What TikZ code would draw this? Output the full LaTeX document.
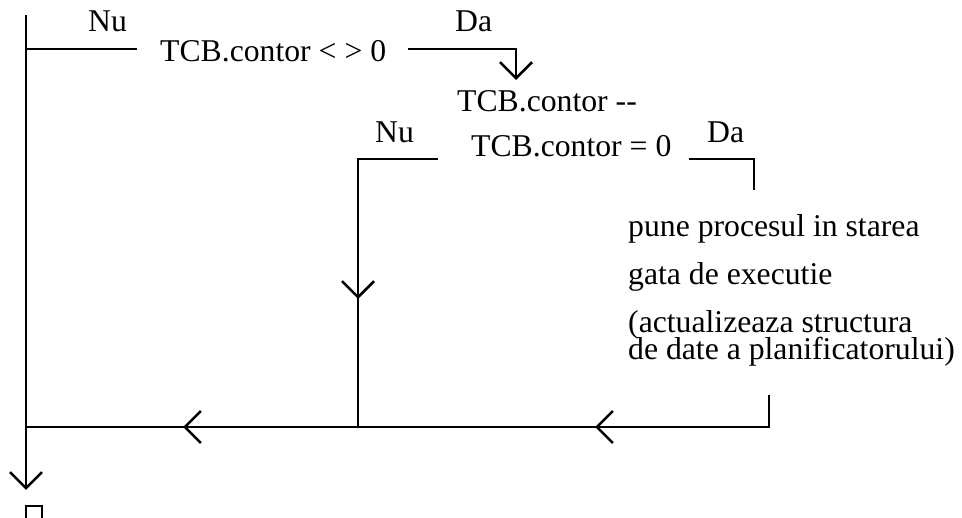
\documentclass[tikz,border=0pt]{standalone}
\usepackage{fontspec}
\setmainfont{Liberation Serif}
\usetikzlibrary{arrows.meta,decorations.markings}

\tikzset{
  flow/.style={line width=2.6pt, line cap=butt, line join=miter},
  lbl/.style={inner sep=0pt, anchor=base west, font=\fontsize{31.7}{37}\selectfont},
  barb/.tip={Straight Barb[length=16pt, width=32pt]},
  midbarb/.style={postaction={decorate, decoration={markings, mark=at position #1 with {\arrow{barb}}}}},
}

\begin{document}
\begin{tikzpicture}[x=1pt, y=-1pt]
  \useasboundingbox (0,0) rectangle (962,518);
  \clip (0,0) rectangle (962,518);

  % labels and statements
  \node[lbl] (nu1) at (88,32)  {Nu};
  \node[lbl] (c1)  at (160,62) {TCB.contor < > 0};
  \node[lbl] (da1) at (455,32) {Da};
  \node[lbl] (dec) at (457,112) {TCB.contor -\kern0pt-};
  \node[lbl] (nu2) at (375,143) {Nu};
  \node[lbl] (c2)  at (471,157) {TCB.contor = 0};
  \node[lbl] (da2) at (707,143) {Da};
  \node[lbl] (a1)  at (628,237) {pune procesul in starea};
  \node[lbl] (a2)  at (628,285) {gata de executie};
  % two tightly set lines: baseline of the first one at the anchor
  \node[lbl] (a3)  at (628,333) {\vtop{\baselineskip=27pt\lineskiplimit=-\maxdimen
      \hbox{(actualizeaza structura}\hbox{de date a planificatorului)}}};

  % bend and end points of the flow lines
  \coordinate (top)   at (26,15);
  \coordinate (exit)  at (26,490);
  \coordinate (nu1a)  at (26,49);
  \coordinate (nu1b)  at (137,49);
  \coordinate (da1a)  at (408,49);
  \coordinate (da1b)  at (516,49);
  \coordinate (da1c)  at (516,80);
  \coordinate (nu2a)  at (438,159);
  \coordinate (nu2b)  at (358,159);
  \coordinate (join)  at (358,427);
  \coordinate (da2a)  at (689,159);
  \coordinate (da2b)  at (754,159);
  \coordinate (da2c)  at (754,190);
  \coordinate (reta)  at (769,395);
  \coordinate (retb)  at (769,427);
  \coordinate (left)  at (26,427);
  \coordinate (boxa)  at (26,530);
  \coordinate (boxb)  at (26,506);
  \coordinate (boxc)  at (42,506);
  \coordinate (boxd)  at (42,530);

  % main vertical line with the exit arrow
  \draw[flow, -{barb}] (top) -- (exit);
  % outer condition branches
  \draw[flow] (nu1a) -- (nu1b);
  \draw[flow, -{barb}] (da1a) -- (da1b) -- (da1c);
  % inner condition branches
  \draw[flow, midbarb=220pt] (nu2a) -- (nu2b) -- (join);
  \draw[flow] (da2a) -- (da2b) -- (da2c);
  % return line
  \draw[flow, midbarb=206pt, midbarb=618pt] (reta) -- (retb) -- (left);
  % next block
  \draw[flow] (boxa) -- (boxb) -- (boxc) -- (boxd);
\end{tikzpicture}
\end{document}
